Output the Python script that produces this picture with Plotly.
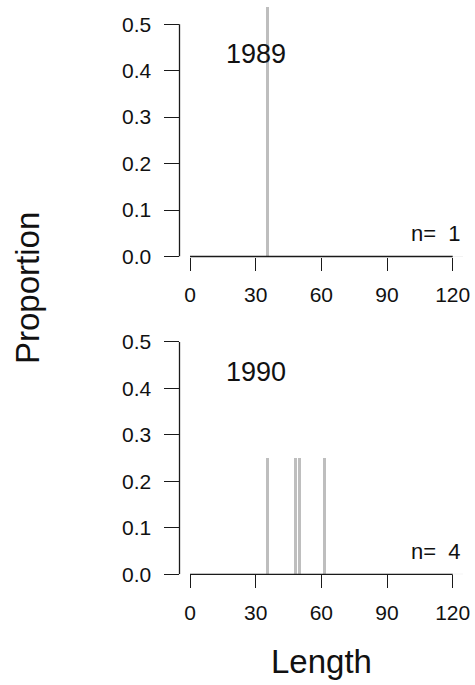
import plotly.graph_objects as go

# Length-frequency proportions by year
years = ["1989", "1990"]
lengths_1989 = [35]
props_1989 = [1.0]
lengths_1990 = [35, 48, 50, 61]
props_1990 = [0.25, 0.25, 0.25, 0.25]
sample_sizes = [1, 4]

x_ticks = [0, 30, 60, 90, 120]
y_ticks = [0.0, 0.1, 0.2, 0.3, 0.4, 0.5]
y_tick_text = ["0.0", "0.1", "0.2", "0.3", "0.4", "0.5"]

FONT = "Liberation Sans, Arial, sans-serif"
BAR_COLOR = "#bebebe"
AXIS_COLOR = "#1a1a1a"
TEXT_COLOR = "#111111"
W, H = 475, 685

x_range = [-4.8, 124.8]
y_range = [0, 0.537]
x_domain = [179.5 / W, 463.2 / W]
y_domains = [
    [(H - 256.5) / H, (H - 7) / H],
    [(H - 574.3) / H, (H - 324.8) / H],
]

fig = go.Figure()

series = [(lengths_1989, props_1989), (lengths_1990, props_1990)]
for i, (xs, ys) in enumerate(series):
    ax = "" if i == 0 else str(i + 1)
    fig.add_trace(go.Bar(
        x=xs, y=ys, width=1.4,
        marker=dict(color=BAR_COLOR, line=dict(width=0)),
        xaxis="x" + ax, yaxis="y" + ax, showlegend=False,
        hoverinfo="x+y",
    ))

tick_font = dict(family=FONT, size=21, color=TEXT_COLOR)
for i in range(2):
    ax = "" if i == 0 else str(i + 1)
    xa = "xaxis" + ax
    ya = "yaxis" + ax
    fig.update_layout({
        xa: dict(
            domain=x_domain, range=x_range, anchor="y" + ax,
            showgrid=False, zeroline=False, showline=False, automargin=False,
            ticks="outside", ticklen=13, tickwidth=1.3, tickcolor=AXIS_COLOR,
            tickvals=x_ticks, ticktext=[str(v) for v in x_ticks],
            tickfont=tick_font, ticklabelstandoff=6,
        ),
        ya: dict(
            domain=y_domains[i], range=y_range, anchor="x" + ax,
            showgrid=False, zeroline=False, showline=False, automargin=False,
            ticks="outside", ticklen=15, tickwidth=1.3, tickcolor=AXIS_COLOR,
            tickvals=y_ticks, ticktext=y_tick_text,
            tickfont=tick_font, ticklabelstandoff=8,
        ),
    })
    xr = "x" + ax
    yr = "y" + ax
    # faint baseline under the bars
    fig.add_shape(type="line", xref=xr, yref=yr, x0=x_ticks[0], x1=x_range[1],
                  y0=0, y1=0, line=dict(color="#e6e6e6", width=1), layer="below")
    # axis lines spanning the tick range only
    fig.add_shape(type="line", xref=xr, yref=yr + " domain", x0=x_ticks[0], x1=x_ticks[-1],
                  y0=0, y1=0, line=dict(color=AXIS_COLOR, width=1.3))
    fig.add_shape(type="line", xref=xr + " domain", yref=yr, x0=0, x1=0,
                  y0=y_ticks[0], y1=y_ticks[-1], line=dict(color=AXIS_COLOR, width=1.3))
    # year label and sample size
    fig.add_annotation(xref=xr, yref=yr, x=30, y=0.435, text=years[i],
                       showarrow=False, font=dict(family=FONT, size=27, color=TEXT_COLOR),
                       xanchor="center", yanchor="middle")
    fig.add_annotation(xref=xr + " domain", yref=yr, x=1, y=0.05,
                       text="n=\u00a0\u00a0" + str(sample_sizes[i]),
                       showarrow=False, font=dict(family=FONT, size=22, color=TEXT_COLOR),
                       xanchor="right", yanchor="middle")

fig.add_annotation(xref="paper", yref="paper", x=28 / W, y=(H - 288) / H,
                   text="Proportion", textangle=-90, showarrow=False,
                   font=dict(family=FONT, size=33, color=TEXT_COLOR),
                   xanchor="center", yanchor="middle")
fig.add_annotation(xref="paper", yref="paper", x=321 / W, y=(H - 661) / H,
                   text="Length", showarrow=False,
                   font=dict(family=FONT, size=33, color=TEXT_COLOR),
                   xanchor="center", yanchor="middle")

fig.update_layout(
    width=W, height=H, autosize=False,
    margin=dict(l=0, r=0, t=0, b=0, pad=0, autoexpand=False),
    paper_bgcolor="white", plot_bgcolor="white",
    bargap=0, showlegend=False,
)

fig.write_html("out.html")
